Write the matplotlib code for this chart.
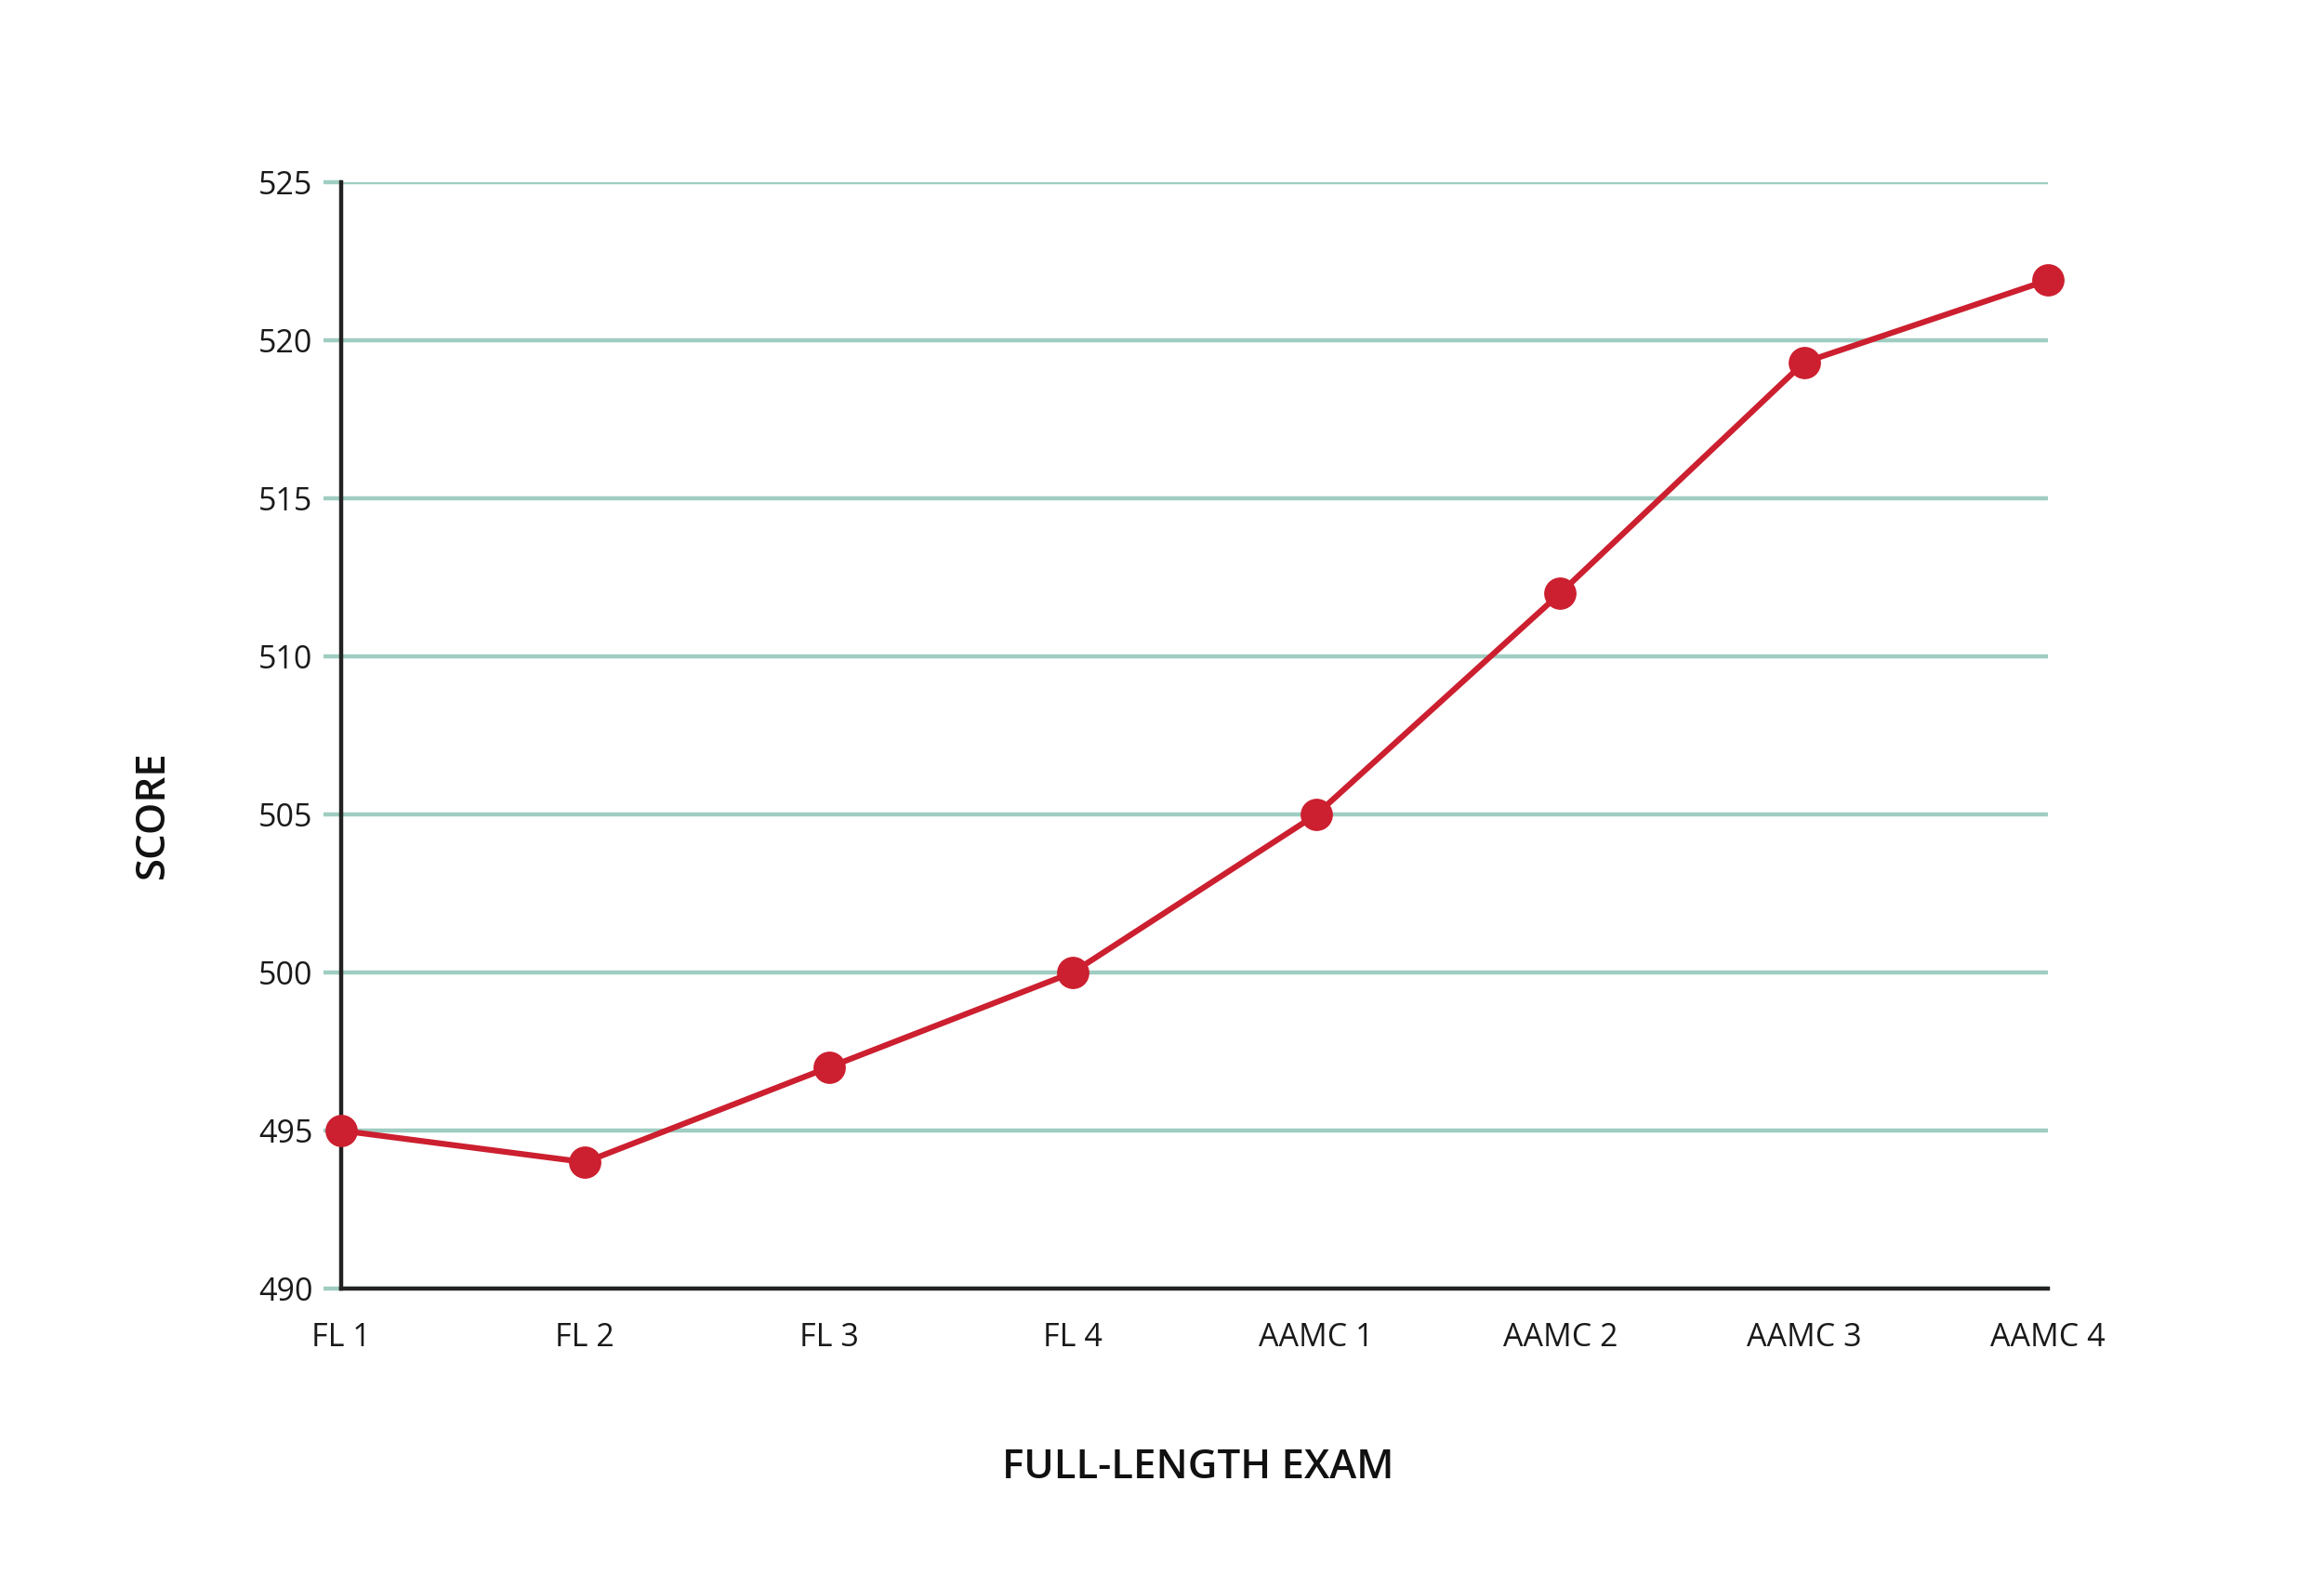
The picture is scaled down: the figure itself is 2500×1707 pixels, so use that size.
import matplotlib
matplotlib.use("Agg")
import matplotlib.pyplot as plt

exams = ["FL 1", "FL 2", "FL 3", "FL 4", "AAMC 1", "AAMC 2", "AAMC 3", "AAMC 4"]
scores = [495, 494, 497, 500, 505, 512, 519.3, 521.9]
yticks = [490, 495, 500, 505, 510, 515, 520, 525]

plt.rcParams['font.family'] = ['Open Sans', 'DejaVu Sans']

fig = plt.figure(figsize=(25, 17.07), dpi=100)
ax = fig.add_axes([0.1468, 0.188, 0.7344, 0.6972])

grid_c = "#9fcdc1"
red = "#cc1f2f"

x = list(range(len(exams)))
ax.plot(x, scores, color=red, lw=4.5, marker="o", markersize=24,
        zorder=5, clip_on=False, solid_capstyle="round")

ax.set_xlim(0, len(exams) - 1)
ax.set_ylim(490, 525)
ax.set_yticks(yticks)
ax.set_yticklabels([str(v) for v in yticks])
ax.set_xticks(x)
ax.set_xticklabels(exams)

ax.yaxis.grid(True, color=grid_c, lw=3.2, zorder=0)
ax.set_axisbelow(True)
ax.tick_params(axis="y", length=14, width=3.2, color=grid_c, pad=8,
               labelsize=24.5, labelcolor="#1a1a1a")
ax.tick_params(axis="x", length=0, pad=26, labelsize=24.5, labelcolor="#1a1a1a")

for s in ["top", "right"]:
    ax.spines[s].set_visible(False)
for s in ["left", "bottom"]:
    ax.spines[s].set_color("#222222")
    ax.spines[s].set_linewidth(3.2)
    ax.spines[s].set_zorder(3)

fig.text(0.5155, 1 - 1578 / 1707, "FULL-LENGTH EXAM", ha="center", va="center",
         fontsize=31.5, fontweight="semibold", color="#111111")
fig.text(164 / 2500, 1 - 876 / 1707, "SCORE", ha="center", va="center",
         rotation=90, fontsize=31.5, fontweight="semibold", color="#111111")

fig.savefig("out.png", dpi=100, facecolor="white")
